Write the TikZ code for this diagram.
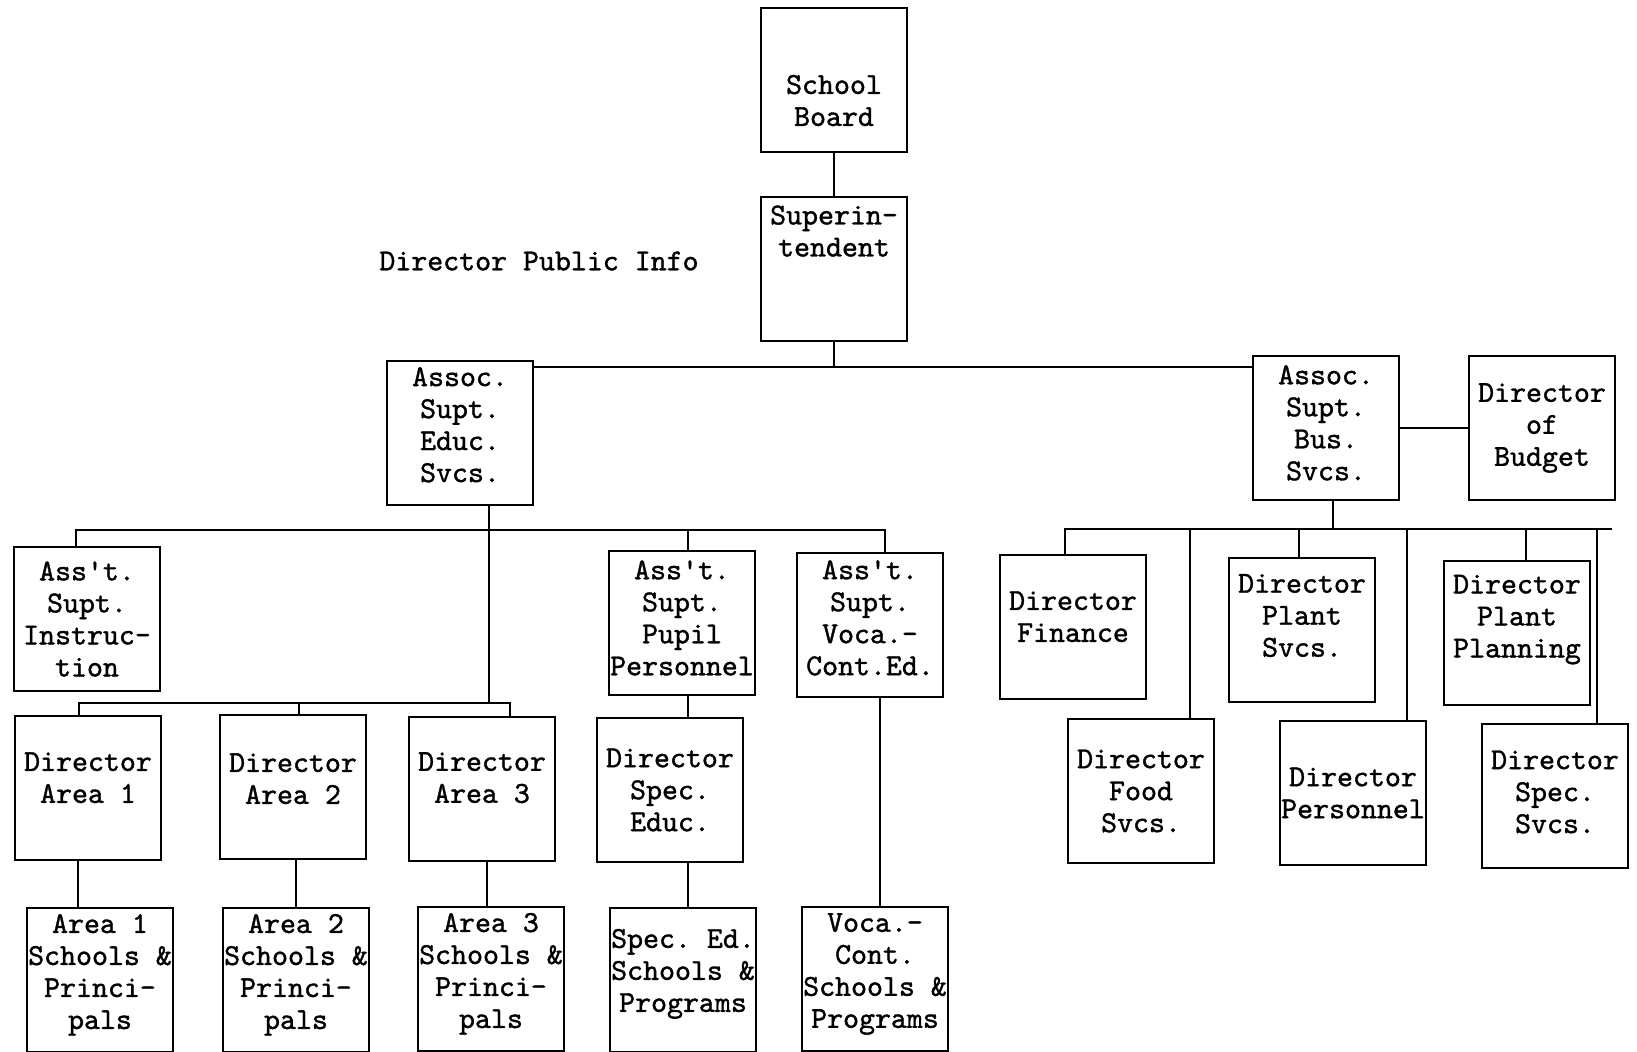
\documentclass[tikz,border=0pt]{standalone}
\usepackage{fontspec}
\setmonofont{lmmono10-regular.otf}[FakeBold=1.2]
\usepackage{tikz}

\begin{document}
\begin{tikzpicture}[x=0.5pt, y=-0.5pt, line width=1.1pt,
	typed/.style={font=\ttfamily\frenchspacing\fontsize{15.2pt}{16pt}\selectfont},
	orgbox/.style={typed, draw, rectangle, minimum width=73pt,
	minimum height=72pt, inner sep=0pt, align=center}]
\useasboundingbox (0, 0) rectangle (1637, 1052);
% top
\node[orgbox] (board) at (834, 80) {\mbox{}\\[14pt]School\\Board};
\node[orgbox] (sup) at (834, 269) {Superin-\\tendent\\[22pt]\mbox{}};
\node[typed] (info) at (539, 261) {Director Public Info};
\node[orgbox] (edu) at (460, 433) {Assoc.\\Supt.\\Educ.\\Svcs.\\[-7.6pt]\mbox{}};
\node[orgbox] (bus) at (1326, 428) {Assoc.\\Supt.\\Bus.\\Svcs.\\[-10.8pt]\mbox{}};
\node[orgbox] (bud) at (1542, 428) {Director\\of\\Budget};
% education side
\node[orgbox] (ins) at (87, 619) {Ass't.\\Supt.\\Instruc-\\tion};
\node[orgbox] (pup) at (682, 623) {Ass't.\\Supt.\\Pupil\\Personnel\\[-10.8pt]\mbox{}};
\node[orgbox] (voc) at (870, 625) {Ass't.\\Supt.\\Voca.-\\Cont.Ed.\\[-8.7pt]\mbox{}};
\node[orgbox] (dir1) at (88, 788) {Director\\Area 1\\[-5.6pt]\mbox{}};
\node[orgbox] (dir2) at (293, 787) {Director\\Area 2\\[-7.6pt]\mbox{}};
\node[orgbox] (dir3) at (482, 789) {Director\\Area 3\\[-4.5pt]\mbox{}};
\node[orgbox] (spd) at (670, 790) {Director\\Spec.\\Educ.};
\node[orgbox] (sch1) at (100, 980) {Area 1\\Schools \&\\Princi-\\pals\\[-7.5pt]\mbox{}};
\node[orgbox] (sch2) at (296, 980) {Area 2\\Schools \&\\Princi-\\pals\\[-7.5pt]\mbox{}};
\node[orgbox] (sch3) at (491, 979) {Area 3\\Schools \&\\Princi-\\pals\\[-7.5pt]\mbox{}};
\node[orgbox] (sps) at (683, 980) {Spec. Ed.\\Schools \&\\Programs\\[-6.4pt]\mbox{}};
\node[orgbox] (vcs) at (875, 979) {Voca.-\\Cont.\\Schools \&\\Programs\\[-7.5pt]\mbox{}};
% business side
\node[orgbox] (fin) at (1073, 627) {Director\\Finance\\[-5.6pt]\mbox{}};
\node[orgbox] (pls) at (1302, 630) {Director\\Plant\\Svcs.\\[-1.4pt]\mbox{}};
\node[orgbox] (plp) at (1517, 633) {Director\\Plant\\Planning\\[0.9pt]\mbox{}};
\node[orgbox] (food) at (1141, 791) {Director\\Food\\Svcs.};
\node[orgbox] (per) at (1353, 793) {Director\\Personnel};
\node[orgbox] (ssv) at (1555, 796) {Director\\Spec.\\Svcs.\\[-11.8pt]\mbox{}};
% top lines
\coordinate (t0) at (834, 367);
\draw (board) -- (sup);
\draw (sup) -- (t0);
\draw (edu.east |- t0) -- (bus.west |- t0);
\draw (bus) -- (bud);
% education lines
\coordinate (e0) at (489, 530);
\coordinate (e1) at (76, 530);
\coordinate (e2) at (688, 530);
\coordinate (e3) at (885, 530);
\coordinate (a0) at (489, 703);
\coordinate (a1) at (79, 703);
\coordinate (a2) at (299, 703);
\coordinate (a3) at (510, 703);
\draw (edu.south -| e0) -- (a0);
\draw (ins.north -| e1) -- (e1) -- (e3) -- (voc.north -| e3);
\draw (e2) -- (pup.north -| e2);
\draw (dir1.north -| a1) -- (a1) -- (a3) -- (dir3.north -| a3);
\draw (a2) -- (dir2.north -| a2);
\draw (dir1.south -| 78, 0) -- (sch1.north -| 78, 0);
\draw (dir2.south -| 296, 0) -- (sch2.north -| 296, 0);
\draw (dir3.south -| 487, 0) -- (sch3.north -| 487, 0);
\draw (pup.south -| 688, 0) -- (spd.north -| 688, 0);
\draw (spd.south -| 688, 0) -- (sps.north -| 688, 0);
\draw (voc.south -| 880, 0) -- (vcs.north -| 880, 0);
% business lines
\coordinate (b0) at (1333, 529);
\coordinate (b1) at (1065, 529);
\coordinate (b2) at (1190, 529);
\coordinate (b3) at (1299, 529);
\coordinate (b4) at (1407, 529);
\coordinate (b5) at (1526, 529);
\coordinate (b6) at (1597, 529);
\coordinate (b7) at (1612, 529);
\draw (bus.south -| b0) -- (b0);
\draw (fin.north -| b1) -- (b1) -- (b7);
\draw (b2) -- (food.north -| b2);
\draw (b3) -- (pls.north -| b3);
\draw (b4) -- (per.north -| b4);
\draw (b5) -- (plp.north -| b5);
\draw (b6) -- (ssv.north -| b6);
\end{tikzpicture}
\end{document}
